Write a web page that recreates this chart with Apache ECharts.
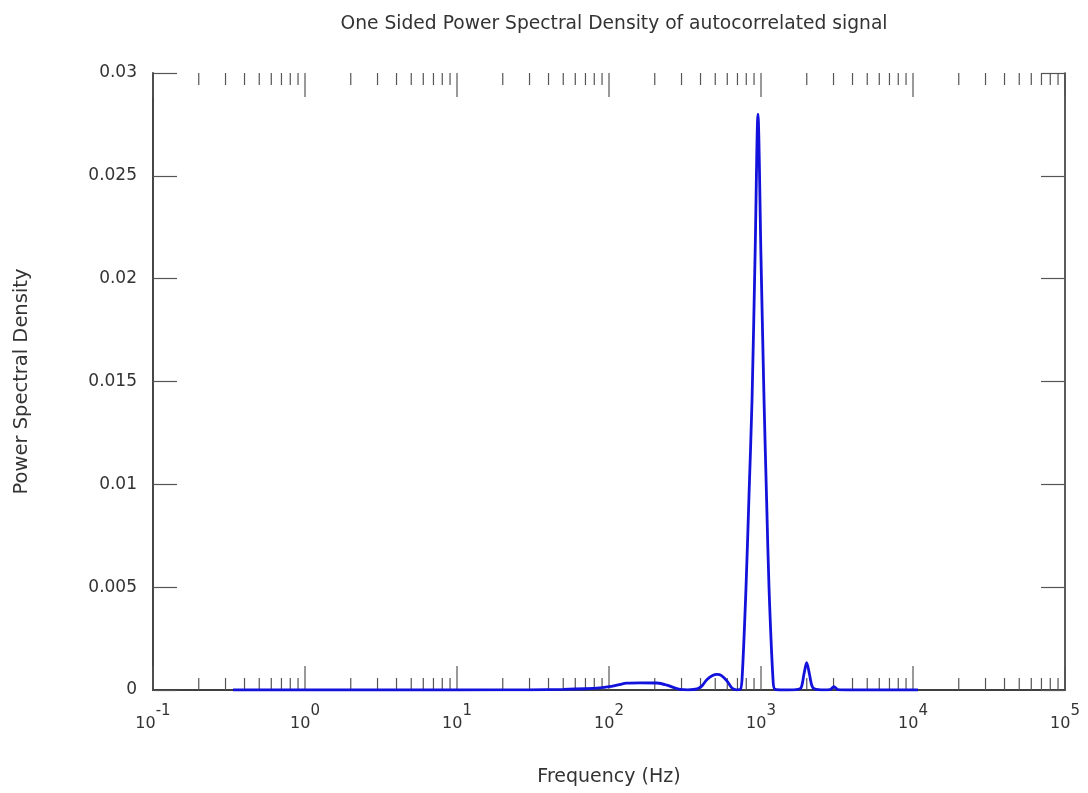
<!DOCTYPE html>
<html>
<head>
<meta charset="utf-8">
<script src="https://cdn.jsdelivr.net/npm/echarts@6/dist/echarts.min.js"></script>
<style>
html,body{margin:0;padding:0;background:#fff;}
#chart{width:1088px;height:793px;}
</style>
</head>
<body>
<div id="chart"></div>
<script>
// Frequencies (Hz) and one-sided PSD values
var freqs = [0.336, 1, 10, 30, 50, 70, 87, 100, 115, 131, 160, 207, 240, 270, 293, 330, 380, 409, 440, 480, 514, 550, 600, 644, 690, 728, 750, 796, 835, 873, 915, 955, 1000, 1047, 1090, 1130, 1200, 1236, 1400, 1700, 1833, 1920, 1997, 2080, 2198, 2500, 2850, 3020, 3200, 4000, 6000, 10790];
var psd = [0, 0, 0, 0.00001, 0.00003, 0.00006, 0.0001, 0.00016, 0.00025, 0.00033, 0.00035, 0.00034, 0.00024, 0.0001, 0.00003, 0.00001, 0.00005, 0.0002, 0.0005, 0.0007, 0.00076, 0.0007, 0.00042, 0.0001, 0.00001, 0.00002, 0.0005, 0.0049, 0.0096, 0.0141, 0.0213, 0.028, 0.021, 0.0141, 0.0091, 0.0049, 0.0005, 0.00003, 0, 0.00002, 0.0001, 0.0008, 0.00133, 0.0008, 0.0001, 0.00001, 0.00002, 0.00016, 0.00002, 0, 0, 0];

// Axis ranges and ticks
var xMin = 0.1, xMax = 100000;
var yMin = 0, yMax = 0.03, yStep = 0.005;
var decades = [0.1, 1, 10, 100, 1000, 10000, 100000];
var minorMultipliers = [2, 3, 4, 5, 6, 7, 8, 9];

// tick list: [frequency, isMajor]
var xTicks = [];
decades.forEach(function (d, i) {
  xTicks.push([d, 1]);
  if (i < decades.length - 1) {
    minorMultipliers.forEach(function (m) { xTicks.push([+(d * m).toPrecision(3), 0]); });
  }
});

var lineData = freqs.map(function (f, i) { return [f, psd[i]]; });

var axisColor = '#333';
var tickColor = '#555';
var textColor = '#333';
var fontFam = 'DejaVu Sans, sans-serif';

var chart = echarts.init(document.getElementById('chart'), null, {renderer: 'canvas'});
chart.setOption({
  backgroundColor: '#fff',
  animation: false,
  title: {
    text: 'One Sided Power Spectral Density of autocorrelated signal',
    left: 609, textAlign: 'center', top: 10,
    textStyle: {fontSize: 18.7, fontWeight: 'normal', color: textColor, fontFamily: fontFam}
  },
  grid: {left: 153, right: 23, top: 73, bottom: 103, containLabel: false},
  xAxis: [{
    type: 'log', logBase: 10, min: xMin, max: xMax, splitNumber: 6,
    position: 'bottom',
    name: 'Frequency (Hz)', nameLocation: 'middle', nameGap: 78,
    nameTextStyle: {fontSize: 19, color: textColor, fontFamily: fontFam},
    axisLine: {lineStyle: {color: axisColor, width: 1.6}},
    axisTick: {show: false},
    splitLine: {show: false},
    axisLabel: {
      margin: 14,
      formatter: function (v) { return '{b|10}{s|' + Math.round(Math.log10(v)) + '}'; },
      rich: {
        b: {fontSize: 16, color: textColor, fontFamily: fontFam, verticalAlign: 'bottom', lineHeight: 28},
        s: {fontSize: 15, color: textColor, fontFamily: fontFam, verticalAlign: 'top', lineHeight: 28}
      }
    }
  }, {
    type: 'log', logBase: 10, min: xMin, max: xMax, splitNumber: 6,
    position: 'top',
    axisLine: {lineStyle: {color: axisColor, width: 1.6}},
    axisTick: {show: false},
    axisLabel: {show: false},
    splitLine: {show: false}
  }],
  yAxis: [{
    type: 'value', min: yMin, max: yMax, interval: yStep,
    position: 'left',
    name: 'Power Spectral Density', nameLocation: 'middle', nameGap: 121,
    nameTextStyle: {fontSize: 19.5, color: textColor, fontFamily: fontFam},
    axisLine: {show: true, lineStyle: {color: axisColor, width: 1.8}},
    axisTick: {show: true, inside: true, length: 24, lineStyle: {color: tickColor, width: 1.2}},
    axisLabel: {margin: 16, fontSize: 17, color: textColor, fontFamily: fontFam},
    splitLine: {show: false}
  }, {
    type: 'value', min: yMin, max: yMax, interval: yStep,
    position: 'right',
    axisLine: {show: true, lineStyle: {color: axisColor, width: 1.6}},
    axisTick: {show: true, inside: true, length: 24, lineStyle: {color: tickColor, width: 1.2}},
    axisLabel: {show: false},
    splitLine: {show: false}
  }],
  series: [{
    type: 'custom',
    xAxisIndex: 0, yAxisIndex: 0,
    silent: true,
    clip: false,
    z: 1,
    data: xTicks,
    renderItem: function (params, api) {
      var v = api.value(0);
      var len = api.value(1) ? 24 : 12;
      var b = api.coord([v, yMin]);
      var t = api.coord([v, yMax]);
      var st = {stroke: tickColor, lineWidth: 1.2};
      return {
        type: 'group',
        children: [
          {type: 'line', shape: {x1: b[0], y1: b[1], x2: b[0], y2: b[1] - len}, style: st},
          {type: 'line', shape: {x1: t[0], y1: t[1], x2: t[0], y2: t[1] + len}, style: st}
        ]
      };
    }
  }, {
    type: 'line',
    xAxisIndex: 0, yAxisIndex: 0,
    data: lineData,
    showSymbol: false,
    smooth: 0.3,
    z: 5,
    lineStyle: {color: '#1212dc', width: 2.8}
  }]
});
</script>
</body>
</html>
